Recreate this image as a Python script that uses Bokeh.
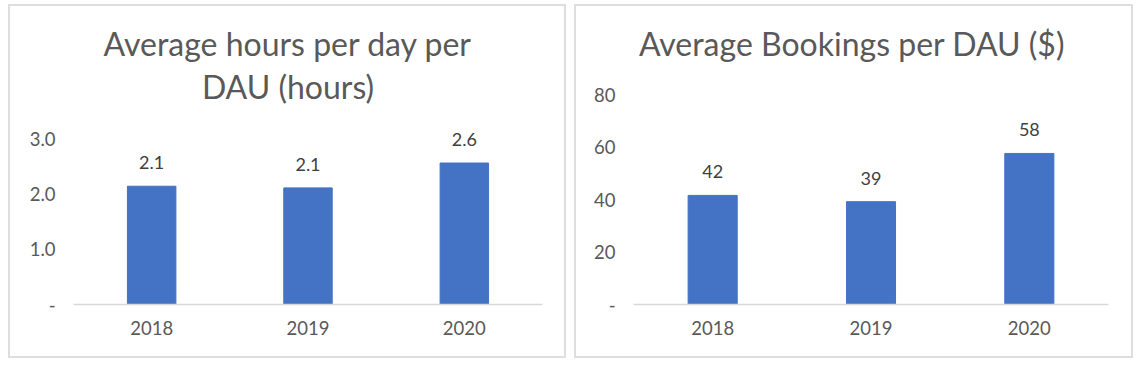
from bokeh.plotting import figure
from bokeh.models import FactorRange, Range1d, FixedTicker, CustomJSTickFormatter, Label, ColumnDataSource
from bokeh.layouts import row
from bokeh.core.properties import value
from bokeh.embed import file_html
from bokeh.resources import INLINE

years = ["2018", "2019", "2020"]
hours = [2.14, 2.11, 2.56]
hours_labels = ["2.1", "2.1", "2.6"]
bookings = [41.6, 39.2, 57.6]
bookings_labels = ["42", "39", "58"]
hours_ticks = [0, 1, 2, 3]
bookings_ticks = [0, 20, 40, 60, 80]
title_left = ["Average hours per day per", "DAU (hours)"]
title_right = ["Average Bookings per DAU ($)"]

FONT = "Lato"
GRAY = "#595959"
BAR = "#4472C4"

H = 354
BOTTOM = 56
FRAME_H = H - BOTTOM


def make_panel(vals, labels, ticks, top_tick, top_tick_px, fmt_code, titles, title_x,
               border_left, border_right, width):
    # y range end so that the top tick sits top_tick_px above the baseline
    yend = top_tick * FRAME_H / top_tick_px
    src = ColumnDataSource(dict(x=years, top=vals, label=labels))
    p = figure(x_range=FactorRange(*years, range_padding=0), y_range=Range1d(0, yend),
               width=width, height=H, output_backend="svg", toolbar_location=None,
               min_border_left=border_left, min_border_right=border_right,
               min_border_top=0, min_border_bottom=BOTTOM,
               styles={"border": "2px solid #dedede"})
    p.vbar(x="x", top="top", width=0.31, color=BAR, source=src)
    p.text(x="x", y="top", text="label", source=src, y_offset=-23.5,
           text_align="center", text_baseline="alphabetic",
           text_font=value(FONT), text_font_size="18px", text_color="#404040")
    p.outline_line_color = None
    p.xgrid.grid_line_color = None
    p.ygrid.grid_line_color = None
    p.yaxis.ticker = FixedTicker(ticks=ticks)
    p.yaxis.formatter = CustomJSTickFormatter(code=fmt_code)
    p.yaxis.axis_line_color = None
    p.yaxis.major_tick_line_color = None
    p.yaxis.minor_tick_line_color = None
    p.yaxis.major_tick_in = 0
    p.yaxis.major_tick_out = 0
    p.yaxis.major_label_standoff = 18
    p.xaxis.axis_line_color = "#d9d9d9"
    p.xaxis.axis_line_width = 1.5
    p.xaxis.major_tick_line_color = None
    p.xaxis.minor_tick_line_color = None
    p.xaxis.major_tick_in = 0
    p.xaxis.major_tick_out = 0
    p.xaxis.major_label_standoff = 16
    for ax in (p.xaxis, p.yaxis):
        ax.major_label_text_font = FONT
        ax.major_label_text_font_size = "18.5px"
        ax.major_label_text_color = GRAY
    ys = [261, 218]
    for t, yy in zip(titles, ys):
        p.add_layout(Label(x=title_x, y=yy, x_units="screen", y_units="screen", text=t,
                           text_align="center", text_baseline="alphabetic",
                           text_font=FONT, text_font_size="32px", text_color=GRAY))
    return p


p1 = make_panel(hours, hours_labels, hours_ticks, 3, 165.8,
                "return tick == 0 ? '-' : tick.toFixed(1);",
                title_left, 214.5, 63, 26, 558)
p2 = make_panel(bookings, bookings_labels, bookings_ticks, 80, 209.8,
                "return tick == 0 ? '-' : tick.toFixed(0);",
                title_right, 218.5, 57, 27, 559)

layout = row(p1, p2, spacing=8, margin=(4, 0, 0, 8))
open("out.html", "w").write(file_html(layout, INLINE))
